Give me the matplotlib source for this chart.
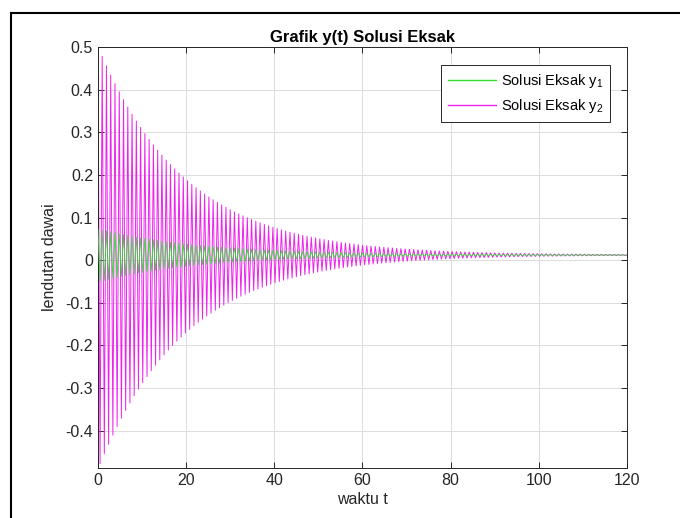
import numpy as np
import matplotlib
matplotlib.use("Agg")
import matplotlib.pyplot as plt
from matplotlib.lines import Line2D

plt.rcParams['font.family'] = ['Liberation Sans', 'DejaVu Sans']
plt.rcParams['mathtext.fontset'] = 'custom'
plt.rcParams['mathtext.rm'] = 'Liberation Sans'
plt.rcParams['axes.unicode_minus'] = False

# oscillation period (time units) and resting level of both solutions
period = 0.968
center = 0.012

# peak amplitude of each cycle, y2 (magenta) and y1 (green)
y2_amp = [
    0.4900, 0.4665, 0.4441, 0.4228, 0.4025, 0.3831, 0.3648, 0.3472, 0.3306, 0.3147,
    0.2996, 0.2852, 0.2715, 0.2585, 0.2461, 0.2343, 0.2230, 0.2123, 0.2021, 0.1924,
    0.1832, 0.1744, 0.1660, 0.1580, 0.1505, 0.1432, 0.1364, 0.1298, 0.1236, 0.1177,
    0.1120, 0.1066, 0.1015, 0.0967, 0.0920, 0.0876, 0.0834, 0.0794, 0.0756, 0.0720,
    0.0685, 0.0652, 0.0621, 0.0591, 0.0563, 0.0536, 0.0510, 0.0485, 0.0462, 0.0440,
    0.0419, 0.0399, 0.0379, 0.0361, 0.0344, 0.0327, 0.0312, 0.0297, 0.0282, 0.0269,
    0.0256, 0.0244, 0.0232, 0.0221, 0.0210, 0.0200, 0.0190, 0.0181, 0.0173, 0.0164,
    0.0156, 0.0149, 0.0142, 0.0135, 0.0128, 0.0122, 0.0116, 0.0111, 0.0106, 0.0100,
    0.0095, 0.0091, 0.0087, 0.0082, 0.0078, 0.0075, 0.0071, 0.0068, 0.0064, 0.0061,
    0.0058, 0.0056, 0.0053, 0.0050, 0.0048, 0.0046, 0.0044, 0.0041, 0.0039, 0.0038,
    0.0036, 0.0034, 0.0032, 0.0031, 0.0029, 0.0028, 0.0027, 0.0025, 0.0024, 0.0023,
    0.0022, 0.0021, 0.0020, 0.0019, 0.0018, 0.0017, 0.0016, 0.0015, 0.0015, 0.0014,
    0.0013, 0.0013, 0.0012, 0.0011,
]
y1_amp = [
    0.0620, 0.0595, 0.0570, 0.0547, 0.0524, 0.0503, 0.0482, 0.0463, 0.0444, 0.0425,
    0.0408, 0.0391, 0.0375, 0.0360, 0.0345, 0.0331, 0.0317, 0.0304, 0.0292, 0.0280,
    0.0268, 0.0257, 0.0247, 0.0237, 0.0227, 0.0218, 0.0209, 0.0200, 0.0192, 0.0184,
    0.0177, 0.0169, 0.0162, 0.0156, 0.0149, 0.0143, 0.0137, 0.0132, 0.0126, 0.0121,
    0.0116, 0.0111, 0.0107, 0.0102, 0.0098, 0.0094, 0.0090, 0.0087, 0.0083, 0.0080,
    0.0076, 0.0073, 0.0070, 0.0067, 0.0065, 0.0062, 0.0059, 0.0057, 0.0055, 0.0052,
    0.0050, 0.0048, 0.0046, 0.0044, 0.0042, 0.0041, 0.0039, 0.0037, 0.0036, 0.0034,
    0.0033, 0.0032, 0.0030, 0.0029, 0.0028, 0.0027, 0.0026, 0.0025, 0.0024, 0.0023,
    0.0022, 0.0021, 0.0020, 0.0019, 0.0018, 0.0018, 0.0017, 0.0016, 0.0016, 0.0015,
    0.0014, 0.0014, 0.0013, 0.0013, 0.0012, 0.0012, 0.0011, 0.0011, 0.0010, 0.0010,
    0.0009, 0.0009, 0.0009, 0.0009, 0.0008, 0.0008, 0.0008, 0.0008, 0.0007, 0.0007,
    0.0007, 0.0007, 0.0006, 0.0006, 0.0006, 0.0006, 0.0006, 0.0005, 0.0005, 0.0005,
    0.0005, 0.0005, 0.0004, 0.0004,
]

yticks = [-0.4, -0.3, -0.2, -0.1, 0, 0.1, 0.2, 0.3, 0.4, 0.5]
ytick_labels = ['-0.4', '-0.3', '-0.2', '-0.1', '0', '0.1', '0.2', '0.3', '0.4', '0.5']
xticks = [0, 20, 40, 60, 80, 100, 120]


def zigzag(amp):
    # peak at each full cycle, trough half a cycle later
    amp = np.array(amp)
    k = np.arange(len(amp))
    t = np.empty(2 * len(amp))
    y = np.empty(2 * len(amp))
    t[0::2] = k * period
    t[1::2] = (k + 0.5) * period
    y[0::2] = center + amp
    y[1::2] = center - amp
    t = np.append(t, 120)
    y = np.append(y, center)
    return t, y


dark = '#262626'
fig = plt.figure(figsize=(6.8, 5.18), dpi=100)
ax = fig.add_axes([0.144, 0.0965, 0.778, 0.8125])

t1, y1 = zigzag(y1_amp)
t2, y2 = zigzag(y2_amp)
ax.plot(t1, y1, color='#33dd33', lw=0.6, zorder=3, label='Solusi Eksak y$_{\\mathregular{1}}$')
ax.plot(t2, y2, color='#ee22ee', lw=0.7, zorder=2, label='Solusi Eksak y$_{\\mathregular{2}}$')

ax.set_xlim(0, 120)
ax.set_ylim(-0.488, 0.5)
ax.set_xticks(xticks)
ax.set_yticks(yticks)
ax.set_yticklabels(ytick_labels)
ax.grid(True, color='#dcdcdc', lw=0.7)
ax.set_axisbelow(True)
ax.tick_params(direction='in', top=True, right=True, length=4, width=0.7,
               colors=dark, labelsize=11.5, labelcolor=dark)
for s in ax.spines.values():
    s.set_color(dark)
    s.set_linewidth(0.7)

ax.set_title('Grafik y(t) Solusi Eksak', fontsize=12, fontweight='bold', color='black', pad=4)
ax.set_xlabel('waktu t', fontsize=11.5, color=dark, labelpad=3)
ax.set_ylabel('lendutan dawai', fontsize=11.5, color=dark, labelpad=6)

leg = ax.legend(loc='upper right', bbox_to_anchor=(0.968, 0.957), borderaxespad=0,
                fancybox=False, framealpha=1, edgecolor=dark, fontsize=10.5,
                handlelength=3.3, borderpad=0.45, labelspacing=0.5, handletextpad=0.35)
leg.get_frame().set_linewidth(0.7)
for line in leg.get_lines():
    line.set_linewidth(1.0)

# screen frame lines along the top and left
fig.add_artist(Line2D([11 / 680, 1], [1 - 13 / 518, 1 - 13 / 518], color='black', lw=1.5))
fig.add_artist(Line2D([11 / 680, 11 / 680], [0, 1 - 13 / 518], color='black', lw=1.5))

fig.savefig('out.png', dpi=100)
